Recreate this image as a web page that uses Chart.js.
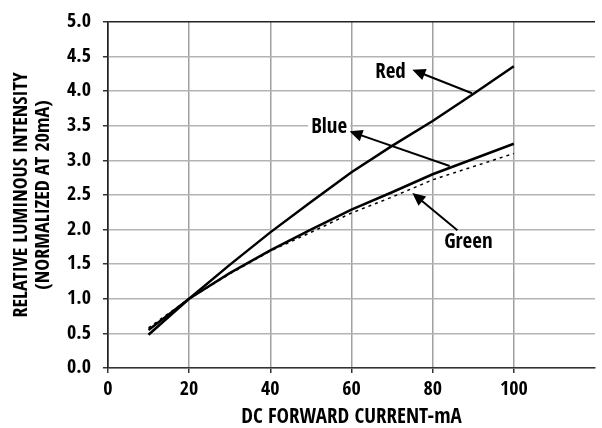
<!DOCTYPE html>
<html>
<head>
<meta charset="utf-8">
<script src="https://cdn.jsdelivr.net/npm/chart.js@4/dist/chart.umd.min.js"></script>
<style>
  body { margin: 0; background: #fff; }
  #wrap { width: 602px; height: 428px; }
</style>
</head>
<body>
<div id="wrap"><canvas id="c" width="602" height="428"></canvas></div>
<script>
// forward current (mA)
const current = [10, 20, 30, 40, 50, 60, 70, 80, 90, 100];
// relative luminous intensity, normalized at 20mA
const red   = [0.48, 1.0, 1.49, 1.96, 2.40, 2.83, 3.21, 3.57, 3.96, 4.36];
const blue  = [0.55, 1.0, 1.37, 1.70, 2.00, 2.29, 2.54, 2.80, 3.02, 3.24];
const green = [0.58, 1.0, 1.36, 1.69, 1.96, 2.24, 2.47, 2.72, 2.91, 3.10];

const xTicks = [0, 20, 40, 60, 80, 100, 120];

// callouts: label position, arrow tip, arrow tail (data units)
const callouts = [
    { text: 'Red',   at: [69.6, 4.27], tip: [75.0, 4.31], tail: [89.7, 3.97] },
    { text: 'Blue',  at: [54.5, 3.47], tip: [59.5, 3.42], tail: [84.2, 2.92] },
    { text: 'Green', at: [88.8, 1.82], tip: [75.0, 2.53], tail: [86.1, 1.99] }
];

const FONT = '"Open Sans Condensed", "Roboto Condensed", sans-serif';
const W = 800;

function pairs(ys) {
    return current.map((x, i) => ({ x: x, y: ys[i] }));
}

const calloutPlugin = {
    id: 'callouts',
    afterDatasetsDraw(chart) {
        const ctx = chart.ctx;
        const xs = chart.scales.x, ys = chart.scales.y;
        ctx.save();
        callouts.forEach((c) => {
            const tx = xs.getPixelForValue(c.tip[0]), ty = ys.getPixelForValue(c.tip[1]);
            const sx = xs.getPixelForValue(c.tail[0]), sy = ys.getPixelForValue(c.tail[1]);
            const a = Math.atan2(ty - sy, tx - sx);
            const len = 13, w = 6;
            // shaft
            ctx.strokeStyle = '#000';
            ctx.lineWidth = 2;
            ctx.beginPath();
            ctx.moveTo(sx, sy);
            ctx.lineTo(tx - (len - 2) * Math.cos(a), ty - (len - 2) * Math.sin(a));
            ctx.stroke();
            // head
            ctx.fillStyle = '#000';
            ctx.beginPath();
            ctx.moveTo(tx, ty);
            ctx.lineTo(tx - len * Math.cos(a) + w * Math.sin(a), ty - len * Math.sin(a) - w * Math.cos(a));
            ctx.lineTo(tx - len * Math.cos(a) - w * Math.sin(a), ty - len * Math.sin(a) + w * Math.cos(a));
            ctx.closePath();
            ctx.fill();
            // label
            const lx = xs.getPixelForValue(c.at[0]), ly = ys.getPixelForValue(c.at[1]);
            ctx.font = W + ' 21px ' + FONT;
            const tw = ctx.measureText(c.text).width;
            ctx.fillStyle = '#fff';
            ctx.fillRect(lx - tw / 2 - 3, ly - 10, tw + 6, 20);
            ctx.fillStyle = '#000';
            ctx.textAlign = 'center';
            ctx.textBaseline = 'middle';
            ctx.fillText(c.text, lx, ly);
        });
        ctx.restore();
    }
};

new Chart(document.getElementById('c'), {
    type: 'line',
    data: {
        datasets: [
            { label: 'Red', data: pairs(red), borderColor: '#000', borderWidth: 2.5 },
            { label: 'Blue', data: pairs(blue), borderColor: '#000', borderWidth: 2.5 },
            { label: 'Green', data: pairs(green), borderColor: '#000', borderWidth: 1.5, borderDash: [3, 4] }
        ]
    },
    options: {
        responsive: false,
        animation: false,
        devicePixelRatio: 1,
        layout: { padding: { top: 8, right: 0, left: 11, bottom: 0 } },
        elements: { point: { radius: 0 }, line: { tension: 0, fill: false } },
        plugins: {
            legend: { display: false },
            tooltip: { enabled: false }
        },
        scales: {
            x: {
                type: 'linear',
                min: 0,
                max: 120,
                afterBuildTicks: (axis) => { axis.ticks = xTicks.map(v => ({ value: v })); },
                ticks: {
                    color: '#000',
                    font: { family: FONT, size: 20, weight: W, lineHeight: 1.0 },
                    padding: 7,
                    maxRotation: 0,
                    callback: (v) => (v > 100 ? '' : v)
                },
                grid: {
                    color: (c) => {
                        if (!c.tick) return '#a0a0a0';
                        if (c.tick.value === 0) return '#333';
                        if (c.tick.value === 120) return 'rgba(0,0,0,0)';
                        return '#a0a0a0';
                    },
                    lineWidth: 1.5,
                    tickLength: 5,
                    tickColor: (c) => (c.tick && c.tick.value === 120 ? 'rgba(0,0,0,0)' : '#333')
                },
                border: { color: '#333', width: 1.5 },
                title: {
                    display: true,
                    text: 'DC FORWARD CURRENT-mA',
                    color: '#000',
                    font: { family: FONT, size: 21, weight: W, lineHeight: 1.0 },
                    padding: { top: 0, bottom: 0 }
                }
            },
            y: {
                min: 0,
                max: 5,
                ticks: {
                    stepSize: 0.5,
                    color: '#000',
                    font: { family: FONT, size: 20, weight: W, lineHeight: 1.0 },
                    padding: 12,
                    callback: (v) => v.toFixed(1)
                },
                grid: {
                    color: (c) => (c.tick && c.tick.value === 5 ? '#222' : '#b4b4b4'),
                    lineWidth: 1.5,
                    tickLength: 5,
                    tickColor: '#333'
                },
                border: { color: '#222', width: 1.5 },
                title: {
                    display: true,
                    text: ['RELATIVE LUMINOUS INTENSITY', '(NORMALIZED AT 20mA)'],
                    color: '#000',
                    font: { family: FONT, size: 20, weight: W, lineHeight: 1.1 },
                    padding: { top: 0, bottom: 0 }
                }
            }
        }
    },
    plugins: [calloutPlugin]
});
</script>
</body>
</html>
